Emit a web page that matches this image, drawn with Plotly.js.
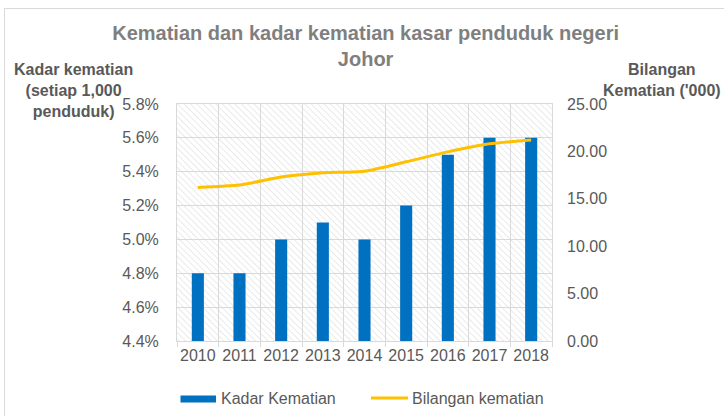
<!DOCTYPE html>
<html><head><meta charset="utf-8">
<script src="https://cdn.plot.ly/plotly-3.0.1.min.js"></script>
<style>
html,body{margin:0;padding:0;overflow:hidden;background:#fff}
#c{width:724px;height:416px}
#b{position:absolute;left:4px;top:8px;width:760px;height:450px;border:1px solid #d9d9d9;pointer-events:none}
</style></head>
<body><div id="c"></div><div id="b"></div>
<script>
const years = ['2010','2011','2012','2013','2014','2015','2016','2017','2018'];
const kadarKematian = [4.8, 4.8, 5.0, 5.1, 5.0, 5.2, 5.5, 5.6, 5.6];
const bilanganKematian = [16.2, 16.45, 17.3, 17.75, 17.9, 18.9, 19.95, 20.8, 21.2];
const leftTicks = [4.4, 4.6, 4.8, 5.0, 5.2, 5.4, 5.6, 5.8];
const rightTicks = [0, 5, 10, 15, 20, 25];

const L = 177, R = 552, T = 104, B = 341, W = 724, H = 416;
const px = x => (x - L) / (R - L);
const py = y => (B - y) / (B - T);

const hatch = "<svg xmlns='http://www.w3.org/2000/svg' width='375' height='237'><defs><pattern id='p' width='4.5' height='4.5' patternUnits='userSpaceOnUse' patternTransform='rotate(-45)'><line x1='0' y1='0' x2='0' y2='4.5' stroke='#d6d6d6' stroke-width='1'/></pattern></defs><rect width='100%' height='100%' fill='url(#p)'/></svg>";
const hatchURI = 'data:image/svg+xml;charset=utf-8,' + encodeURIComponent(hatch);

const fontFam = '"Liberation Sans", Arial, sans-serif';
const grey = '#595959';

const traces = [
  {type:'bar', x: years, y: kadarKematian, name:'Kadar Kematian', marker:{color:'#0070C0'}, showlegend:false, hoverinfo:'x+y'},
  {type:'scatter', mode:'lines', x: years, y: bilanganKematian, yaxis:'y2', name:'Bilangan kematian',
   line:{color:'#FFC000', width:3, shape:'spline', smoothing:0.6}, showlegend:false}
];

const layout = {
  width: W, height: H,
  margin: {l: L, r: W - R, t: T, b: H - B, pad: 0},
  paper_bgcolor: 'rgba(0,0,0,0)', plot_bgcolor: 'rgba(0,0,0,0)',
  font: {family: fontFam, size: 16, color: grey},
  bargap: 0.71,
  title: {text: 'Kematian dan kadar kematian kasar penduduk negeri<br>Johor', x: 0.505, xanchor: 'center',
          y: 1 - 40/416, yanchor: 'middle', font: {family: fontFam, size: 20, color: '#7f7f7f', weight: 'bold'}},
  xaxis: {type: 'category', tickson: 'boundaries', ticks: 'outside', ticklen: 5, tickcolor: '#d9d9d9', tickangle: 0,
          showgrid: true, gridcolor: '#d9d9d9', gridwidth: 1, showline: true, linecolor: '#d9d9d9', mirror: true,
          tickfont: {size: 16, color: grey}, fixedrange: true},
  yaxis: {range: [4.4, 5.8], tickvals: leftTicks, ticktext: leftTicks.map(v => v.toFixed(1) + '%'),
          showgrid: true, gridcolor: '#d9d9d9', gridwidth: 1, zeroline: false, showline: true, linecolor: '#d9d9d9', mirror: true,
          ticks: '', ticklabelstandoff: 14, tickfont: {size: 16, color: grey}},
  yaxis2: {overlaying: 'y', side: 'right', range: [0, 25], tickvals: rightTicks, ticktext: rightTicks.map(v => v.toFixed(2)),
           showgrid: false, zeroline: false, showline: false, ticks: '', ticklabelstandoff: 14, tickfont: {size: 16, color: grey}},
  images: [{source: hatchURI, xref: 'paper', yref: 'paper', x: 0, y: 1, sizex: 1, sizey: 1,
            xanchor: 'left', yanchor: 'top', sizing: 'stretch', layer: 'below'}],
  shapes: [
    {type: 'rect', xref: 'paper', yref: 'paper', x0: px(180.5), x1: px(216), y0: py(395.5), y1: py(402.5),
     fillcolor: '#0070C0', line: {width: 0}},
    {type: 'line', xref: 'paper', yref: 'paper', x0: px(371), x1: px(408), y0: py(398), y1: py(398),
     line: {color: '#FFC000', width: 3}}
  ],
  annotations: [
    {text: '<b>Kadar kematian<br>(setiap 1,000<br>penduduk)</b>', xref: 'paper', yref: 'paper', x: px(73.5), y: py(90),
     xanchor: 'center', yanchor: 'middle', align: 'center', showarrow: false, font: {size: 16, color: grey}},
    {text: "<b>Bilangan<br>Kematian ('000)</b>", xref: 'paper', yref: 'paper', x: px(662), y: py(80),
     xanchor: 'center', yanchor: 'middle', align: 'center', showarrow: false, font: {size: 16, color: grey}},
    {text: 'Kadar Kematian', xref: 'paper', yref: 'paper', x: px(219), y: py(398), xanchor: 'left', yanchor: 'middle',
     showarrow: false, font: {size: 16, color: grey}},
    {text: 'Bilangan kematian', xref: 'paper', yref: 'paper', x: px(410), y: py(398), xanchor: 'left', yanchor: 'middle',
     showarrow: false, font: {size: 16, color: grey}}
  ]
};

Plotly.newPlot('c', traces, layout, {displayModeBar: false, staticPlot: true});
</script>
</body></html>
